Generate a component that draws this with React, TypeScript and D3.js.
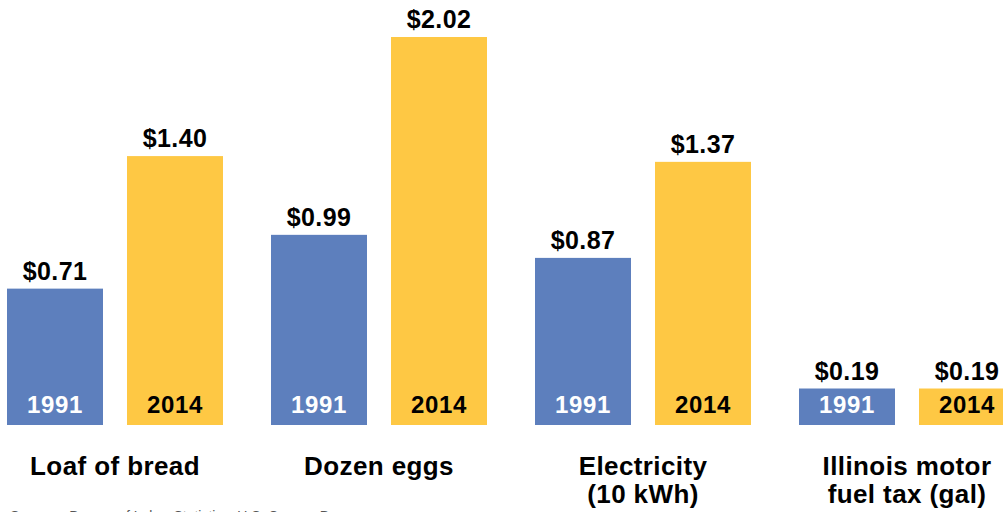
import React from 'react'
import * as d3 from 'd3'

// values
const categories = ['Loaf of bread', 'Dozen eggs', 'Electricity\n(10 kWh)', 'Illinois motor\nfuel tax (gal)']
const years = ['1991', '2014']
const prices1991 = [0.71, 0.99, 0.87, 0.19]
const prices2014 = [1.40, 2.02, 1.37, 0.19]
const source = 'Sources: Bureau of Labor Statistics, U.S. Census Bureau'

const WIDTH = 1003
const HEIGHT = 512
const BLUE = '#5d7fbd'
const YELLOW = '#fec844'
const FONT = '"Liberation Sans", Arial, Helvetica, sans-serif'

export default function App () {
  const baseline = 425

  // group positions
  const x = d3.scaleBand<string>()
    .domain(categories)
    .range([7, 7 + 264 * categories.length])
    .paddingInner(0)
    .paddingOuter(0)

  // bar positions inside a group
  const xInner = d3.scaleOrdinal<string, number>()
    .domain(years)
    .range([0, 120])
  const barWidth = 96

  const y = d3.scaleLinear()
    .domain([0, 2.02])
    .range([baseline, 37])

  const fmt = d3.format('$.2f')

  const series = [
    {year: years[0], values: prices1991, fill: BLUE, text: '#fff'},
    {year: years[1], values: prices2014, fill: YELLOW, text: '#000'}
  ]

  return (
    <svg width={WIDTH} height={HEIGHT} style={{position: 'absolute', left: 0, top: 0, background: '#fff'}}
      fontFamily={FONT} fontWeight='bold'>
      {categories.map((cat, i) => {
        const gx = x(cat) || 0
        return (
          <g key={cat} transform={`translate(${gx},0)`}>
            {series.map((s) => {
              const v = s.values[i]
              const bx = xInner(s.year)
              const top = y(v)
              return (
                <g key={s.year}>
                  <rect x={bx} y={top} width={barWidth} height={baseline - top} fill={s.fill} />
                  <text x={bx + barWidth / 2} y={top - 9} textAnchor='middle' fontSize={25}
                    letterSpacing={0.4} fill='#000'>{fmt(v)}</text>
                  <text x={bx + barWidth / 2} y={baseline - 12} textAnchor='middle' fontSize={24}
                    letterSpacing={0.6} fill={s.text}>{s.year}</text>
                </g>
              )
            })}
            {cat.split('\n').map((line, j) => (
              <text key={j} x={(xInner(years[1]) + barWidth) / 2} y={475 + j * 28}
                textAnchor='middle' fontSize={26} letterSpacing={0.4} fill='#000'>{line}</text>
            ))}
          </g>
        )
      })}
      <text x={10} y={521} fontSize={14} fontWeight='normal' fill='#555'>{source}</text>
    </svg>
  )
}
